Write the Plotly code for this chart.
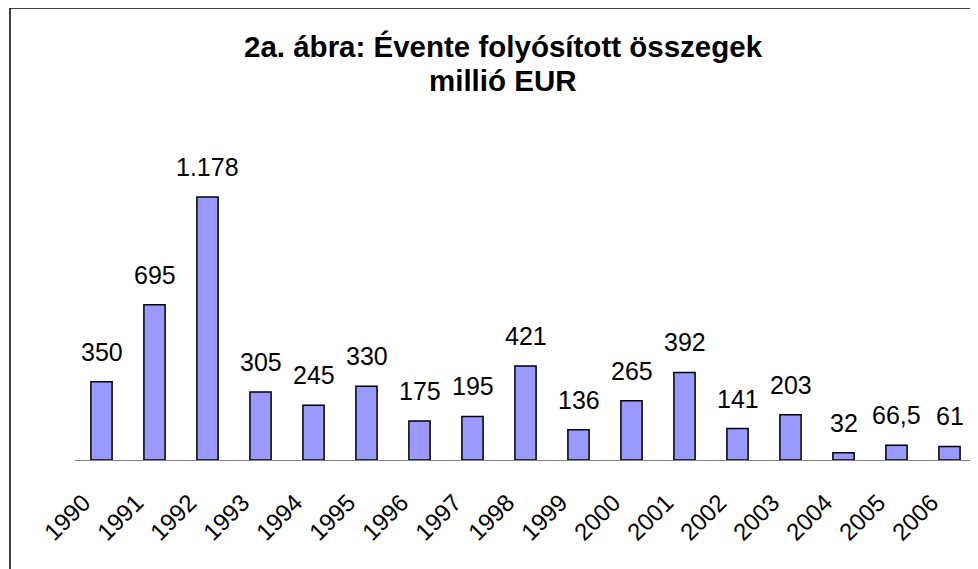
import plotly.graph_objects as go

years = ["1990", "1991", "1992", "1993", "1994", "1995", "1996", "1997", "1998",
         "1999", "2000", "2001", "2002", "2003", "2004", "2005", "2006"]
values = [350, 695, 1178, 305, 245, 330, 175, 195, 421, 136, 265, 392, 141, 203, 32, 66.5, 61]
labels = ["350", "695", "1.178", "305", "245", "330", "175", "195", "421", "136",
          "265", "392", "141", "203", "32", "66,5", "61"]
title_lines = ["2a. ábra: Évente folyósított összegek", "millió EUR"]

W, H = 978, 569
OFF = 8  # page offset of the figure inside the browser window
# target plot area in window pixels: x 75..976, y 148..460
L = 75 - OFF
T = 148 - OFF
pw = 901
ph = 312
R = W - L - pw
B = H - T - ph

def px_x(x):  # window pixel -> paper
    return (x - OFF - L) / pw

def px_y(y):
    return (T + ph - (y - OFF)) / ph

FONT = "Arial, Liberation Sans, sans-serif"

fig = go.Figure()
fig.add_trace(go.Bar(
    x=years, y=values,
    marker=dict(color="#9999FF", line=dict(color="#000000", width=1.5)),
    width=0.4,
    hoverinfo="skip",
))

for i, (yv, t) in enumerate(zip(values, labels)):
    fig.add_annotation(x=i, y=yv, text=t, showarrow=False, yanchor="bottom",
                       yshift=14, font=dict(family=FONT, size=25, color="#000000"))

for line, cy in zip(title_lines, [46, 80]):
    fig.add_annotation(xref="paper", yref="paper", x=px_x(503), y=px_y(cy),
                       text="<b>" + line + "</b>", showarrow=False,
                       xanchor="center", yanchor="middle",
                       font=dict(family=FONT, size=29.5, color="#000000"))

fig.update_layout(
    width=W, height=H,
    margin=dict(l=L, r=R, t=T, b=B),
    paper_bgcolor="white", plot_bgcolor="white",
    showlegend=False,
    xaxis=dict(
        type="category", tickangle=-45, showgrid=False, ticks="",
        showline=True, linecolor="#808080", linewidth=1,
        tickfont=dict(family=FONT, size=24, color="#000000"),
        ticklabelstandoff=18, ticklabelshift=-18,
        range=[-0.5, 16.5], autorange=False, automargin=False,
    ),
    yaxis=dict(range=[0, 1397], visible=False, showgrid=False, zeroline=False,
               automargin=False),
    shapes=[
        dict(type="line", xref="paper", yref="paper",
             x0=px_x(10), x1=px_x(10), y0=px_y(8), y1=px_y(H + 20),
             line=dict(color="#000000", width=1.5)),
        dict(type="line", xref="paper", yref="paper",
             x0=px_x(10), x1=px_x(W + 20), y0=px_y(8), y1=px_y(8),
             line=dict(color="#000000", width=1.5)),
    ],
)

fig.write_html("out.html")
